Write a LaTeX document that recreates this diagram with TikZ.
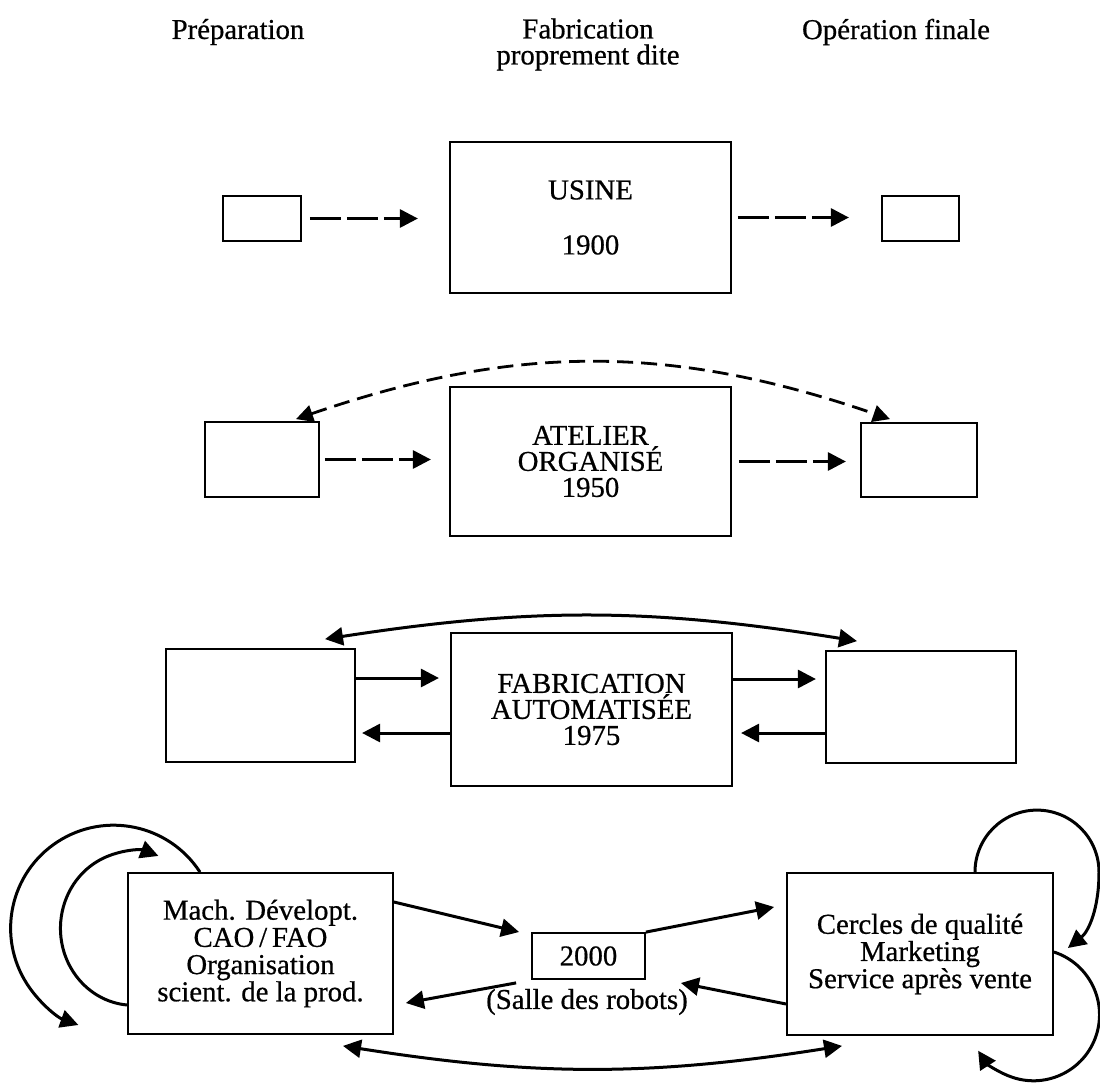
\documentclass[tikz,border=0pt]{standalone}
\usepackage{fontspec}
\setmainfont{Liberation Serif}[FakeBold=0.6]
\usetikzlibrary{arrows.meta,calc}
\begin{document}
\begin{tikzpicture}[x=0.5pt,y=0.5pt,
  box/.style={draw,line width=0.9pt,inner sep=0pt,align=center,font=\fontsize{14.4pt}{13pt}\selectfont},
  bigbox/.style={box,font=\fontsize{14.4pt}{13.6pt}\selectfont},
  txt/.style={inner sep=0pt,align=center,font=\fontsize{14.4pt}{13pt}\selectfont},
  arr/.style={line width=1.5pt,-{Triangle[length=9pt,width=9pt]}},
  arrb/.style={line width=1.5pt,-{Triangle[length=9pt,width=9pt]}},
  biarr/.style={line width=1.5pt,{Triangle[length=9pt,width=9pt]}-{Triangle[length=9pt,width=9pt]}},
  darr/.style={arr,dash pattern=on 15.5pt off 3pt},
  darc/.style={line width=1.4pt,dash pattern=on 8pt off 4pt,{Triangle[length=8.5pt,width=8.5pt]}-{Triangle[length=8.5pt,width=8.5pt]}}
]
\useasboundingbox (0,0) rectangle (1100,-1083);

% headers
\node[txt] (h1) at (238,-32) {Préparation};
\node[txt] (h2) at (588,-44.5) {Fabrication\\proprement dite};
\node[txt] (h3) at (896,-32) {Opération finale};

% row 1
\node[box,minimum width=39pt,minimum height=22.5pt] (L1) at (262,-218.5) {};
\node[box,minimum width=140.5pt,minimum height=75.5pt] (M1) at (590.5,-217.5) {USINE\\[14.5pt]1900};
\node[box,minimum width=38.5pt,minimum height=22.5pt] (R1) at (920.5,-218.5) {};
\draw[darr] ([xshift=4pt]L1.east) -- ++(108,0);
\draw[darr] ([xshift=3pt]M1.east) -- ++(111,0);

% row 2
\node[box,minimum width=57pt,minimum height=37.5pt] (L2) at (262,-459.5) {};
\node[box,minimum width=140.5pt,minimum height=74.5pt] (M2) at (590.5,-461.5) {ATELIER\\ORGANISÉ\\1950};
\node[box,minimum width=58pt,minimum height=37pt] (R2) at (919,-460) {};
\draw[darr] ([xshift=2.5pt]L2.east) -- ++(106,0);
\draw[darr] ([xshift=3.5pt]M2.east) -- ++(107,0);
\draw[darc] ([xshift=17pt,yshift=1pt]L2.north) to[bend left=19] ([xshift=-14.5pt,yshift=1.5pt]R2.north);

% row 3
\node[box,minimum width=94.5pt,minimum height=56.5pt] (L3) at (260.5,-705.5) {};
\node[box,minimum width=140.5pt,minimum height=76.5pt] (M3) at (591.5,-709.5) {FABRICATION\\AUTOMATISÉE\\1975};
\node[box,minimum width=95pt,minimum height=56pt] (R3) at (921,-707) {};
\draw[arr] ([yshift=13.75pt]L3.east) -- ++(83,0);
\draw[arr] ([yshift=-11.75pt]M3.west) -- ++(-88,0);
\draw[arr] ([yshift=15.25pt]M3.east) -- ++(83,0);
\draw[arr] ([yshift=-13pt]R3.west) -- ++(-84,0);
\draw[biarr] ([xshift=32.25pt,yshift=4.5pt]L3.north) to[bend left=9] ([xshift=-32pt,yshift=4.5pt]R3.north);

% row 4
\node[bigbox,minimum width=132.5pt,minimum height=80.5pt] (L4) at (260.5,-953.5) {Mach. Dévelopt.\\CAO\,/\,FAO\\Organisation\\scient. de la prod.};
\node[box,minimum width=56.5pt,minimum height=23pt] (C4) at (588.5,-956) {2000};
\node[txt] (sal) at (587,-1002) {(Salle des robots)};
\node[bigbox,minimum width=133pt,minimum height=81pt] (R4) at (920,-954) {Cercles de qualité\\Marketing\\Service après vente};

\draw[arrb] ([yshift=25.75pt]L4.east) -- ([xshift=-6pt,yshift=12pt]C4.west);
\draw[arrb] (C4.north east) -- ([xshift=-6pt,yshift=23.5pt]R4.west);
\draw[arrb] ([yshift=-25pt]R4.west) -- ([xshift=17.5pt,yshift=-13.5pt]C4.east);
\draw[arrb] ([xshift=-7.5pt,yshift=-1.5pt]C4.south west) -- ([xshift=6pt,yshift=-24.75pt]L4.east);
\draw[biarr] ([xshift=41.25pt,yshift=-5.5pt]L4.south) to[bend right=9] ([xshift=-39pt,yshift=-5pt]R4.south);

% loops left
\draw[arrb] ([xshift=-30.25pt]L4.north) arc[start angle=33,end angle=250,radius=51.5pt];
\draw[arrb] ([yshift=-25.75pt]L4.west) arc[start angle=265,end angle=70,x radius=36.5pt,y radius=38.5pt];
% loops right
\draw[arrb] ([xshift=27.5pt]R4.north) arc[start angle=180,end angle=0,radius=31pt]
  .. controls (1099,-910) and (1088,-932) .. ([xshift=7pt,yshift=3pt]R4.east);
\draw[arrb] ([yshift=1pt]R4.east) arc[start angle=72,end angle=-147,radius=33pt];
\end{tikzpicture}
\end{document}
